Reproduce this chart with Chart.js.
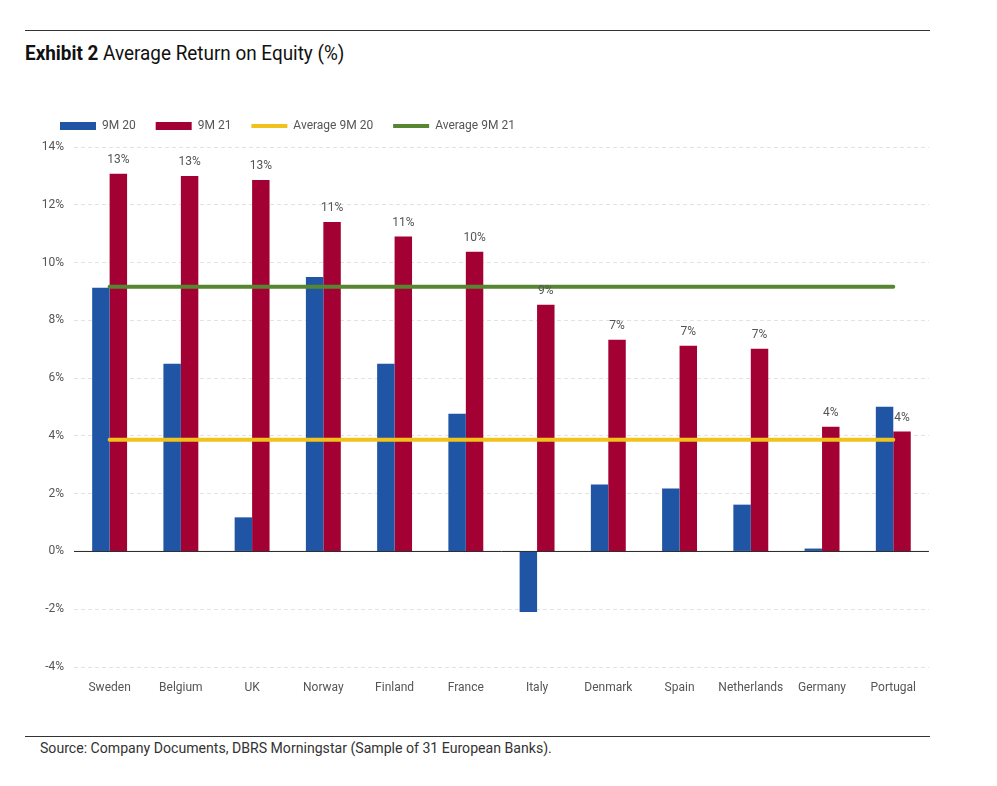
<!DOCTYPE html>
<html lang="en">
<head>
<meta charset="UTF-8">
<title>Average Return on Equity</title>
<script src="https://cdn.jsdelivr.net/npm/chart.js"></script>
<style>
  body { margin: 0; background: #fff; font-family: 'Roboto', sans-serif; }
  .page { position: relative; width: 997px; height: 786px; }
  .rule { position: absolute; left: 25px; width: 905px; height: 1px; background: #333; }
  .title { position: absolute; left: 25px; top: 41px; font-size: 21px; color: #111; white-space: nowrap;
           transform: scaleX(0.9); transform-origin: left top; }
  .title b { font-weight: bold; }
  .source { position: absolute; left: 40px; top: 739px; font-size: 15px; color: #333; white-space: nowrap;
            transform: scaleX(0.94); transform-origin: left top; }
  .chart_box { position: absolute; left: 20px; top: 90px; width: 910px; height: 620px; }
</style>
</head>
<body>
<div class="page">
  <div class="rule" style="top:30px"></div>
  <div class="title"><b>Exhibit 2</b> Average Return on Equity (%)</div>
  <div class="chart_box"><canvas id="roeChart"></canvas></div>
  <div class="rule" style="top:736px"></div>
  <div class="source">Source: Company Documents, DBRS Morningstar (Sample of 31 European Banks).</div>
</div>

<script>
// data
const countries = ['Sweden', 'Belgium', 'UK', 'Norway', 'Finland', 'France', 'Italy', 'Denmark', 'Spain', 'Netherlands', 'Germany', 'Portugal'];
const roe9M20 = [9.13, 6.5, 1.18, 9.5, 6.5, 4.77, -2.1, 2.32, 2.18, 1.62, 0.1, 5.01];
const roe9M21 = [13.07, 13.0, 12.86, 11.4, 10.9, 10.37, 8.54, 7.33, 7.12, 7.02, 4.32, 4.15];
const avg9M20 = [3.87, 3.87, 3.87, 3.87, 3.87, 3.87, 3.87, 3.87, 3.87, 3.87, 3.87, 3.87];
const avg9M21 = [9.16, 9.16, 9.16, 9.16, 9.16, 9.16, 9.16, 9.16, 9.16, 9.16, 9.16, 9.16];
const yTicks = [-4, -2, 0, 2, 4, 6, 8, 10, 12, 14];

const FONT = "'Roboto', sans-serif";
Chart.defaults.font.family = FONT;
Chart.defaults.color = '#555';

// a bit more room under the legend
const legendGap = {
    id: 'legendGap',
    beforeInit(chart) {
        const fit = chart.legend.fit;
        chart.legend.fit = function () {
            fit.bind(chart.legend)();
            this.height += 5;
        };
    }
};

// labels above the 9M 21 bars + solid zero line
const extras = {
    id: 'extras',
    beforeDatasetsDraw(chart) {
        const { ctx, chartArea, scales } = chart;
        const y0 = scales.y.getPixelForValue(0);
        ctx.save();
        ctx.strokeStyle = '#222';
        ctx.lineWidth = 1;
        ctx.beginPath();
        ctx.moveTo(chartArea.left, y0);
        ctx.lineTo(chartArea.right, y0);
        ctx.stroke();
        ctx.restore();
    },
    afterDatasetsDraw(chart) {
        const { ctx } = chart;
        const meta = chart.getDatasetMeta(1);
        ctx.save();
        ctx.font = '12px ' + FONT;
        ctx.fillStyle = '#555';
        ctx.textAlign = 'center';
        ctx.textBaseline = 'alphabetic';
        meta.data.forEach((bar, i) => {
            ctx.fillText(Math.round(roe9M21[i]) + '%', bar.x, bar.y - 11);
        });
        ctx.restore();
    }
};

new Chart(document.getElementById('roeChart'), {
    data: {
        labels: countries,
        datasets: [
            { type: 'bar', label: '9M 20', data: roe9M20, backgroundColor: '#1f55a4', order: 1,
              barPercentage: 1, categoryPercentage: 0.49 },
            { type: 'bar', label: '9M 21', data: roe9M21, backgroundColor: '#a30034', order: 1,
              barPercentage: 1, categoryPercentage: 0.49 },
            { type: 'line', label: 'Average 9M 20', data: avg9M20, borderColor: '#f1c21b', backgroundColor: '#f1c21b',
              borderWidth: 4, pointRadius: 0, order: 0, borderCapStyle: 'round' },
            { type: 'line', label: 'Average 9M 21', data: avg9M21, borderColor: '#578632', backgroundColor: '#578632',
              borderWidth: 4, pointRadius: 0, order: 0, borderCapStyle: 'round' }
        ]
    },
    options: {
        responsive: true,
        maintainAspectRatio: false,
        animation: false,
        layout: { padding: { left: 20, right: 0, top: 10, bottom: 0 } },
        scales: {
            x: {
                grid: { display: false, drawTicks: false },
                border: { display: false },
                ticks: { color: '#555', font: { size: 12 }, padding: 14, maxRotation: 0, autoSkip: false },
                afterFit: (s) => { s.height = 43; }
            },
            y: {
                min: -4,
                max: 14,
                afterBuildTicks: (s) => { s.ticks = yTicks.map(v => ({ value: v })); },
                grid: { color: '#e2e2e2', drawTicks: false },
                border: { display: false, dash: [4, 3] },
                ticks: { color: '#555', font: { size: 12 }, padding: 10, callback: (v) => v + '%' },
                afterFit: (s) => { s.width = 34; }
            }
        },
        plugins: {
            tooltip: { enabled: false },
            legend: {
                position: 'top',
                align: 'start',
                sort: (a, b) => a.datasetIndex - b.datasetIndex,
                labels: {
                    usePointStyle: true,
                    pointStyleWidth: 36,
                    boxHeight: 8,
                    padding: 20,
                    color: '#555',
                    font: { size: 12 },
                    generateLabels(chart) {
                        return chart.data.datasets.map((ds, i) => ({
                            text: ds.label,
                            fillStyle: ds.backgroundColor,
                            strokeStyle: ds.type === 'line' ? ds.borderColor : ds.backgroundColor,
                            lineWidth: ds.type === 'line' ? 4 : 0,
                            pointStyle: ds.type === 'line' ? 'line' : 'rect',
                            fontColor: '#555',
                            datasetIndex: i,
                            hidden: false
                        }));
                    }
                }
            }
        }
    },
    plugins: [legendGap, extras]
});
</script>
</body>
</html>
